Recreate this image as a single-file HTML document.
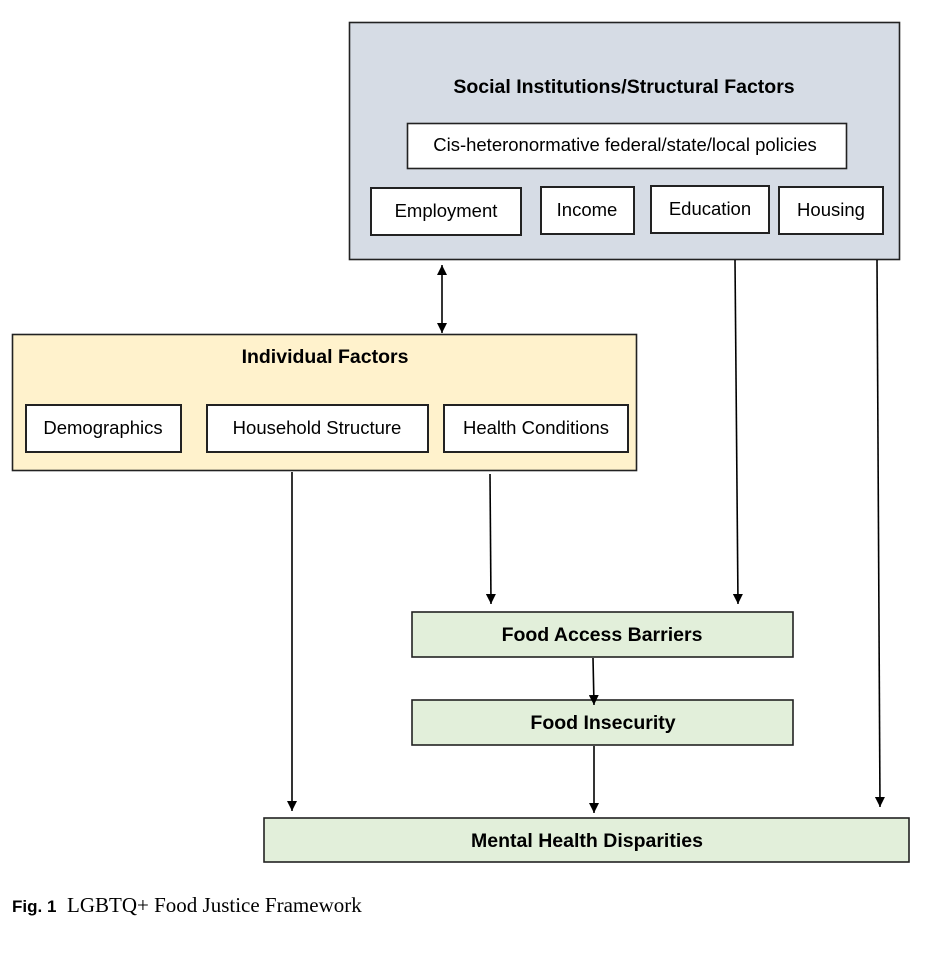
<!DOCTYPE html>
<html><head><meta charset="utf-8"><style>
html,body{margin:0;padding:0;background:#fff;}
svg{display:block;}
text{font-family:"Liberation Sans",sans-serif;fill:#000;}
</style></head><body>
<svg width="934" height="958" viewBox="0 0 934 958" xmlns="http://www.w3.org/2000/svg">
<defs>
<marker id="a" markerWidth="10" markerHeight="10" refX="10" refY="5" orient="auto-start-reverse" markerUnits="userSpaceOnUse" viewBox="0 0 10 10">
<path d="M0,0 L10,5 L0,10 z" fill="#000"/>
</marker>
</defs>
<g stroke="#222" stroke-width="1.6">
<rect x="349.5" y="22.5" width="550" height="237" fill="#d6dce5"/>
<rect x="407.5" y="123.5" width="439" height="45" fill="#fff"/>
<rect x="371" y="188" width="150" height="47" fill="#fff" stroke-width="2"/>
<rect x="541" y="187" width="93" height="47" fill="#fff" stroke-width="2"/>
<rect x="651" y="186" width="118" height="47" fill="#fff" stroke-width="2"/>
<rect x="779" y="187" width="104" height="47" fill="#fff" stroke-width="2"/>
<rect x="12.5" y="334.5" width="624" height="136" fill="#fff2cc"/>
<rect x="26" y="405" width="155" height="47" fill="#fff" stroke-width="2"/>
<rect x="207" y="405" width="221" height="47" fill="#fff" stroke-width="2"/>
<rect x="444" y="405" width="184" height="47" fill="#fff" stroke-width="2"/>
<rect x="412" y="612" width="381" height="45" fill="#e2efda"/>
<rect x="412" y="700" width="381" height="45" fill="#e2efda"/>
<rect x="264" y="818" width="645" height="44" fill="#e2efda"/>
</g>
<g stroke="#000" stroke-width="1.6" fill="none">
<line x1="442" y1="265" x2="442" y2="333" marker-start="url(#a)" marker-end="url(#a)"/>
<line x1="292" y1="472" x2="292" y2="811" marker-end="url(#a)"/>
<line x1="490" y1="474" x2="491" y2="604" marker-end="url(#a)"/>
<line x1="735" y1="260" x2="738" y2="604" marker-end="url(#a)"/>
<line x1="877" y1="260" x2="880" y2="807" marker-end="url(#a)"/>
<line x1="593" y1="658" x2="594" y2="705" marker-end="url(#a)"/>
<line x1="594" y1="746" x2="594" y2="813" marker-end="url(#a)"/>
</g>
<g font-size="18.5" text-anchor="middle">
<text x="624" y="93" font-weight="bold" font-size="19.5">Social Institutions/Structural Factors</text>
<text x="625" y="151">Cis-heteronormative federal/state/local policies</text>
<text x="446" y="217">Employment</text>
<text x="587" y="216">Income</text>
<text x="710" y="215">Education</text>
<text x="831" y="216">Housing</text>
<text x="325" y="363" font-weight="bold" font-size="19.5">Individual Factors</text>
<text x="103" y="434">Demographics</text>
<text x="317" y="434">Household Structure</text>
<text x="536" y="434">Health Conditions</text>
<text x="602" y="641" font-weight="bold" font-size="19.5">Food Access Barriers</text>
<text x="603" y="729" font-weight="bold" font-size="19.5">Food Insecurity</text>
<text x="587" y="847" font-weight="bold" font-size="19.5">Mental Health Disparities</text>
</g>
<text x="12" y="912" font-size="17" font-weight="bold">Fig. 1</text>
<text x="67" y="912" font-size="21" style="font-family:'Liberation Serif',serif">LGBTQ+ Food Justice Framework</text>
</svg>
</body></html>
